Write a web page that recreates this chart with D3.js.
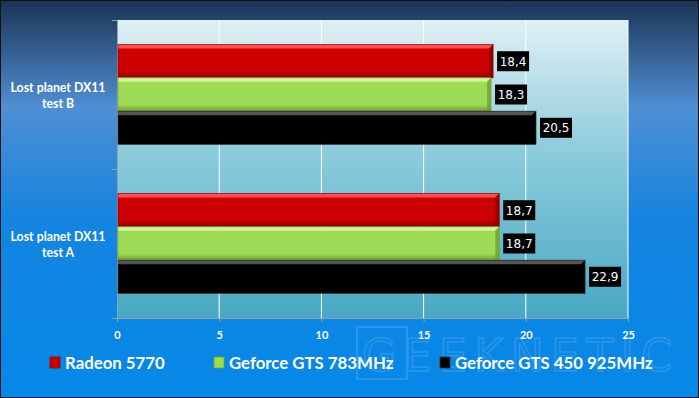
<!DOCTYPE html>
<html>
<head>
<meta charset="utf-8">
<script src="https://cdn.jsdelivr.net/npm/d3@7"></script>
<style>
  body { margin: 0; background: #fff; }
  svg { display: block; }
  .tick text { fill: #fff; font-family: Lato, 'DejaVu Sans', sans-serif; font-weight: bold; font-size: 11px; }
</style>
</head>
<body>
<script>
// chart data
const categories = ['Lost planet DX11|test B', 'Lost planet DX11|test A'];
const seriesNames = ['Radeon 5770', 'Geforce GTS 783MHz', 'Geforce GTS 450 925MHz'];
const radeon = [18.4, 18.7];
const gts783 = [18.3, 18.7];
const gts450 = [20.5, 22.9];
const xTicks = [0, 5, 10, 15, 20, 25];

const colors = [
    {main: '#cc0000', top: '#ff5050', dark: '#8a0000'},
    {main: '#9edc58', top: '#d8f49a', dark: '#6da033'},
    {main: '#000000', top: '#555555', dark: '#000000'}
];

const W = 699, H = 398;
const plot = {left: 117, top: 20, right: 628, bottom: 318};

const svg = d3.select('body').append('svg')
    .attr('width', W)
    .attr('height', H);

const defs = svg.append('defs');
const bg = defs.append('linearGradient').attr('id', 'bg').attr('x1', 0).attr('y1', 0).attr('x2', 0).attr('y2', 1);
bg.append('stop').attr('offset', '0%').attr('stop-color', '#1c3456');
bg.append('stop').attr('offset', '27%').attr('stop-color', '#4f8fd2');
bg.append('stop').attr('offset', '55%').attr('stop-color', '#1584e0');
bg.append('stop').attr('offset', '100%').attr('stop-color', '#0588e8');

const pg = defs.append('linearGradient').attr('id', 'pg').attr('x1', 0).attr('y1', 0).attr('x2', 0).attr('y2', 1);
pg.append('stop').attr('offset', '0%').attr('stop-color', '#dff0f5');
pg.append('stop').attr('offset', '45%').attr('stop-color', '#8ccbdc');
pg.append('stop').attr('offset', '100%').attr('stop-color', '#48a8c3');

colors.forEach((c, i) => {
    const g = defs.append('linearGradient').attr('id', 'bar' + i).attr('x1', 0).attr('y1', 0).attr('x2', 0).attr('y2', 1);
    g.append('stop').attr('offset', '0%').attr('stop-color', c.main);
    g.append('stop').attr('offset', '80%').attr('stop-color', c.main);
    g.append('stop').attr('offset', '100%').attr('stop-color', c.dark);
});

//background
svg.append('rect').attr('x', 0.5).attr('y', 0.5).attr('width', W - 1).attr('height', H - 1)
    .attr('fill', 'url(#bg)').attr('stroke', '#111').attr('stroke-width', 1);

//plot area
svg.append('rect')
    .attr('x', plot.left).attr('y', plot.top)
    .attr('width', plot.right - plot.left).attr('height', plot.bottom - plot.top)
    .attr('fill', 'url(#pg)');

//watermark (faint logo)
const wm = svg.append('g').attr('opacity', 0.13);
wm.append('rect').attr('x', 357).attr('y', 327).attr('width', 50).attr('height', 52)
    .attr('fill', 'none').attr('stroke', '#fff').attr('stroke-width', 2);
wm.append('text')
    .attr('x', 362).attr('y', 371)
    .attr('font-family', 'DejaVu Sans, sans-serif')
    .attr('font-size', 44)
    .attr('textLength', 310)
    .attr('lengthAdjust', 'spacing')
    .attr('fill', 'none')
    .attr('stroke', '#ffffff').attr('stroke-width', 1.5)
    .text('GEEKNETIC');

const x = d3.scaleLinear().domain([0, 25]).range([plot.left, plot.right]);
const y0 = d3.scaleBand().domain(categories).range([plot.top, plot.bottom])
    .paddingInner(0.33).paddingOuter(0.165);
const y1 = d3.scaleBand().domain(seriesNames).range([0, y0.bandwidth()]);

//gridlines
svg.append('g').selectAll('line').data(xTicks.slice(1)).join('line')
    .attr('x1', (d) => x(d)).attr('x2', (d) => x(d))
    .attr('y1', plot.top).attr('y2', plot.bottom)
    .attr('stroke', '#ffffff').attr('stroke-width', 1);

//x axis
const xaxis = svg.append('g').attr('transform', `translate(0,${plot.bottom})`)
    .call(d3.axisBottom(x).tickValues(xTicks).tickSize(4).tickPadding(9));
xaxis.select('.domain').attr('stroke', '#8fa4b0');
xaxis.selectAll('.tick line').attr('stroke', '#8fa4b0');

//y axis
const yTicks = [plot.top, plot.top + (plot.bottom - plot.top) / 2, plot.bottom];
svg.append('line').attr('x1', plot.left + 0.5).attr('x2', plot.left + 0.5)
    .attr('y1', plot.top).attr('y2', plot.bottom).attr('stroke', '#8fa4b0');
svg.append('g').selectAll('line').data(yTicks).join('line')
    .attr('x1', plot.left - 5).attr('x2', plot.left)
    .attr('y1', (d) => d + 0.5).attr('y2', (d) => d + 0.5)
    .attr('stroke', '#8fa4b0');

//category labels
categories.forEach((cat) => {
    const lines = cat.split('|');
    const cy = y0(cat) + y0.bandwidth() / 2;
    const t = svg.append('text')
        .attr('x', 58).attr('y', cy - 3)
        .attr('text-anchor', 'middle')
        .attr('font-family', 'Lato, sans-serif')
        .attr('font-weight', 'bold')
        .attr('font-size', 12.3)
        .attr('fill', '#fff');
    lines.forEach((l, i) => t.append('tspan').attr('x', 58).attr('dy', i === 0 ? 0 : 16).text(l));
});

//bars
const seriesData = [radeon, gts783, gts450];
const bevel = 4;
const barsG = svg.append('g');
seriesData.forEach((vals, si) => {
    vals.forEach((v, ci) => {
        const by = y0(categories[ci]) + y1(seriesNames[si]);
        const bh = y1.bandwidth();
        const bx = x(0) + 1;
        const bw = x(v) - bx;
        const c = colors[si];
        const g = barsG.append('g');
        g.append('rect').attr('x', bx).attr('y', by).attr('width', bw).attr('height', bh)
            .attr('fill', `url(#bar${si})`);
        //top bevel
        g.append('polygon')
            .attr('points', `${bx},${by} ${bx + bw},${by} ${bx + bw - bevel},${by + bevel} ${bx},${by + bevel}`)
            .attr('fill', c.top);
        //right bevel
        g.append('polygon')
            .attr('points', `${bx + bw},${by} ${bx + bw},${by + bh} ${bx + bw - bevel},${by + bh - 1} ${bx + bw - bevel},${by + bevel}`)
            .attr('fill', c.dark).attr('opacity', si === 2 ? 1 : 0.8);
        g.append('rect').attr('x', bx).attr('y', by).attr('width', bw).attr('height', bh)
            .attr('fill', 'none').attr('stroke', si === 2 ? '#333' : c.dark).attr('stroke-width', 0.6);

        //value label
        const label = v.toFixed(1).replace('.', ',');
        const lx = x(v) + 4;
        g.append('rect').attr('x', lx).attr('y', by + bh / 2 - 10).attr('width', 32).attr('height', 20)
            .attr('fill', '#000');
        g.append('text').attr('x', lx + 16).attr('y', by + bh / 2 + 4.5)
            .attr('text-anchor', 'middle')
            .attr('font-family', 'DejaVu Sans, sans-serif')
            .attr('font-size', 12)
            .attr('fill', '#fff')
            .text(label);
    });
});

//legend
const legendX = [50, 214, 440];
const legend = svg.append('g').selectAll('g').data(seriesNames).join('g')
    .attr('transform', (d, i) => `translate(${legendX[i]},357)`);
legend.append('rect').attr('width', 10).attr('height', 11)
    .attr('fill', (d, i) => colors[i].main)
    .attr('stroke', (d, i) => i === 2 ? '#333' : colors[i].dark).attr('stroke-width', 0.8);
legend.append('text').attr('x', 15).attr('y', 11.5)
    .attr('font-family', 'Lato, sans-serif')
    .attr('font-weight', 'bold')
    .attr('font-size', 16.8)
    .attr('fill', '#fff')
    .text((d) => d);
</script>
</body>
</html>
